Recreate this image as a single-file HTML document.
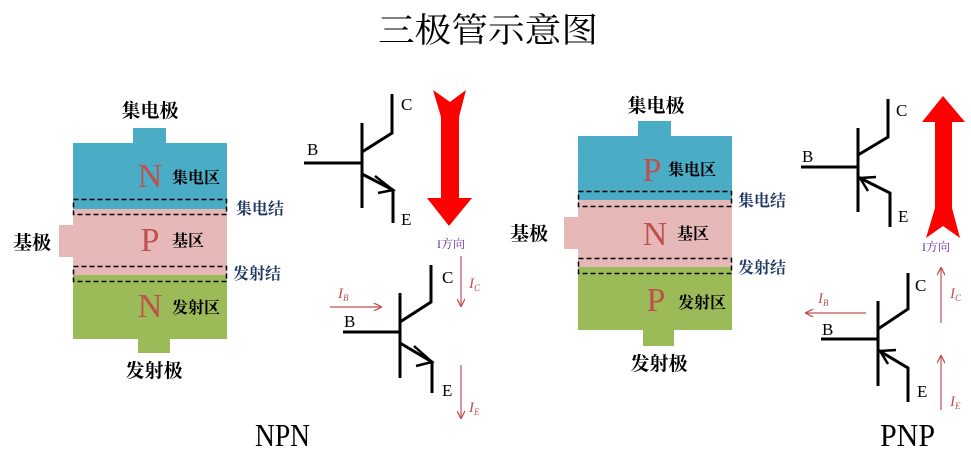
<!DOCTYPE html>
<html><head><meta charset="utf-8"><style>
html,body{margin:0;padding:0;background:#fff;}
svg{display:block;}
text{font-family:"Liberation Serif","Noto Serif CJK SC",serif;}
.b{font-weight:bold;}
</style></head><body>
<svg width="971" height="469" viewBox="0 0 971 469" xmlns="http://www.w3.org/2000/svg">
<defs>
<marker id="ar" viewBox="0 0 10 10" refX="9" refY="5" markerWidth="7" markerHeight="7" orient="auto"><path d="M0,0 L10,5 L0,10" fill="none" stroke="#c0504d" stroke-width="1.5"/></marker>
</defs>
<text x="488" y="42" font-size="34" text-anchor="middle" textLength="220" lengthAdjust="spacingAndGlyphs">三极管示意图</text>

<!-- NPN block -->
<rect x="133" y="128" width="33" height="15" fill="#4bacc6"/>
<rect x="73" y="143" width="154" height="66" fill="#4bacc6"/>
<rect x="73" y="209" width="154" height="66" fill="#e6b9b8"/>
<rect x="59" y="225" width="14" height="32" fill="#e6b9b8"/>
<rect x="73" y="275" width="154" height="64" fill="#9bbb59"/>
<rect x="138" y="339" width="32" height="14" fill="#9bbb59"/>
<rect x="73.5" y="199.5" width="153" height="15" fill="none" stroke="#000" stroke-width="1.5" stroke-dasharray="5,3"/>
<rect x="73.5" y="266.5" width="153" height="15" fill="none" stroke="#000" stroke-width="1.5" stroke-dasharray="5,3"/>
<text class="b" x="150" y="117" font-size="19" text-anchor="middle">集电极</text>
<text x="150" y="187" font-size="34" fill="#c0504d" text-anchor="middle">N</text>
<text class="b" x="172" y="183" font-size="16">集电区</text>
<text class="b" x="236" y="214" font-size="16" fill="#1f3864">集电结</text>
<text class="b" x="13" y="249" font-size="19">基极</text>
<text x="150" y="251" font-size="34" fill="#c0504d" text-anchor="middle">P</text>
<text class="b" x="172" y="246" font-size="16">基区</text>
<text class="b" x="233" y="279" font-size="16" fill="#1f3864">发射结</text>
<text x="150" y="317" font-size="34" fill="#c0504d" text-anchor="middle">N</text>
<text class="b" x="172" y="313" font-size="16">发射区</text>
<text class="b" x="154" y="377" font-size="19" text-anchor="middle">发射极</text>

<!-- NPN symbol top -->
<g stroke="#000" stroke-width="3" fill="none">
<line x1="304" y1="163" x2="362" y2="163"/>
<line x1="362" y1="123" x2="362" y2="208"/>
<polyline points="362,152 392,133 392,94"/>
<polyline points="362,174 393,190 393,223"/>
<polyline points="375,176 393,190 378,193" stroke-width="2.5"/>
</g>
<text x="401" y="110" font-size="17">C</text>
<text x="307" y="155" font-size="17">B</text>
<text x="401" y="225" font-size="17">E</text>
<polygon points="433,90 450,102 466,90 459,117 459,198 472,198 449,226 427,198 441,198 441,117" fill="#ff0000"/>
<text x="437" y="248" font-size="12" fill="#7030a0">I方向</text>

<!-- NPN symbol bottom -->
<g stroke="#000" stroke-width="3" fill="none">
<line x1="343" y1="332" x2="400" y2="332"/>
<line x1="400" y1="293" x2="400" y2="378"/>
<polyline points="400,322 431,302 431,265"/>
<polyline points="400,343 432,362 432,393"/>
<polyline points="414,346 432,362 416,366" stroke-width="2.5"/>
</g>
<text x="442" y="283" font-size="17">C</text>
<text x="344" y="327" font-size="17">B</text>
<text x="442" y="396" font-size="17">E</text>
<g stroke="#c0504d" stroke-width="1.2">
<line x1="330" y1="307" x2="381" y2="307" marker-end="url(#ar)"/>
<line x1="461" y1="256" x2="461" y2="306" marker-end="url(#ar)"/>
<line x1="461" y1="365" x2="461" y2="418" marker-end="url(#ar)"/>
</g>
<text x="338" y="298" font-size="15" font-style="italic" fill="#c0504d">I<tspan font-size="9" dy="3">B</tspan></text>
<text x="469" y="288" font-size="15" font-style="italic" fill="#c0504d">I<tspan font-size="9" dy="3">C</tspan></text>
<text x="469" y="412" font-size="15" font-style="italic" fill="#c0504d">I<tspan font-size="9" dy="3">E</tspan></text>
<text x="255" y="446" font-size="32" textLength="55" lengthAdjust="spacingAndGlyphs">NPN</text>

<!-- PNP block -->
<rect x="638" y="121" width="33" height="15" fill="#4bacc6"/>
<rect x="578" y="136" width="154" height="64" fill="#4bacc6"/>
<rect x="578" y="200" width="154" height="67" fill="#e6b9b8"/>
<rect x="564" y="217" width="14" height="32" fill="#e6b9b8"/>
<rect x="578" y="267" width="154" height="63" fill="#9bbb59"/>
<rect x="643" y="330" width="31" height="16" fill="#9bbb59"/>
<rect x="578.5" y="191.5" width="153" height="15" fill="none" stroke="#000" stroke-width="1.5" stroke-dasharray="5,3"/>
<rect x="578.5" y="258.5" width="153" height="15" fill="none" stroke="#000" stroke-width="1.5" stroke-dasharray="5,3"/>
<text class="b" x="656" y="112" font-size="19" text-anchor="middle">集电极</text>
<text x="652" y="181" font-size="34" fill="#c0504d" text-anchor="middle">P</text>
<text class="b" x="668" y="175" font-size="16">集电区</text>
<text class="b" x="738" y="206" font-size="16" fill="#1f3864">集电结</text>
<text class="b" x="510" y="240" font-size="19">基极</text>
<text x="655" y="245" font-size="34" fill="#c0504d" text-anchor="middle">N</text>
<text class="b" x="677" y="239" font-size="16">基区</text>
<text class="b" x="738" y="273" font-size="16" fill="#1f3864">发射结</text>
<text x="656" y="311" font-size="34" fill="#c0504d" text-anchor="middle">P</text>
<text class="b" x="678" y="308" font-size="16">发射区</text>
<text class="b" x="659" y="370" font-size="19" text-anchor="middle">发射极</text>

<!-- PNP symbol top -->
<g stroke="#000" stroke-width="3" fill="none">
<line x1="801" y1="167" x2="858" y2="167"/>
<line x1="858" y1="128" x2="858" y2="212"/>
<polyline points="858,155 888,137 888,99"/>
<polyline points="858,177 890,193 890,227"/>
<polyline points="876,177 860,178 868,191" stroke-width="2.5"/>
</g>
<text x="896" y="116" font-size="17">C</text>
<text x="802" y="162" font-size="17">B</text>
<text x="898" y="222" font-size="17">E</text>
<polygon points="943,96 965,122 952,122 952,208 960,238 943,226 926,238 935,208 935,122 922,122" fill="#ff0000"/>
<text x="922" y="251" font-size="12" fill="#7030a0">I方向</text>

<!-- PNP symbol bottom -->
<g stroke="#000" stroke-width="3" fill="none">
<line x1="821" y1="339" x2="878" y2="339"/>
<line x1="878" y1="301" x2="878" y2="386"/>
<polyline points="878,329 908,309 908,273"/>
<polyline points="878,350 908,368 908,402"/>
<polyline points="896,350 880,351 888,364" stroke-width="2.5"/>
</g>
<text x="915" y="291" font-size="17">C</text>
<text x="822" y="335" font-size="17">B</text>
<text x="917" y="397" font-size="17">E</text>
<g stroke="#c0504d" stroke-width="1.2">
<line x1="866" y1="313" x2="806" y2="313" marker-end="url(#ar)"/>
<line x1="941" y1="323" x2="941" y2="268" marker-end="url(#ar)"/>
<line x1="941" y1="410" x2="941" y2="356" marker-end="url(#ar)"/>
</g>
<text x="818" y="303" font-size="15" font-style="italic" fill="#c0504d">I<tspan font-size="9" dy="3">B</tspan></text>
<text x="950" y="298" font-size="15" font-style="italic" fill="#c0504d">I<tspan font-size="9" dy="3">C</tspan></text>
<text x="950" y="406" font-size="15" font-style="italic" fill="#c0504d">I<tspan font-size="9" dy="3">E</tspan></text>
<text x="880" y="446" font-size="32" textLength="55" lengthAdjust="spacingAndGlyphs">PNP</text>
</svg>
</body></html>
